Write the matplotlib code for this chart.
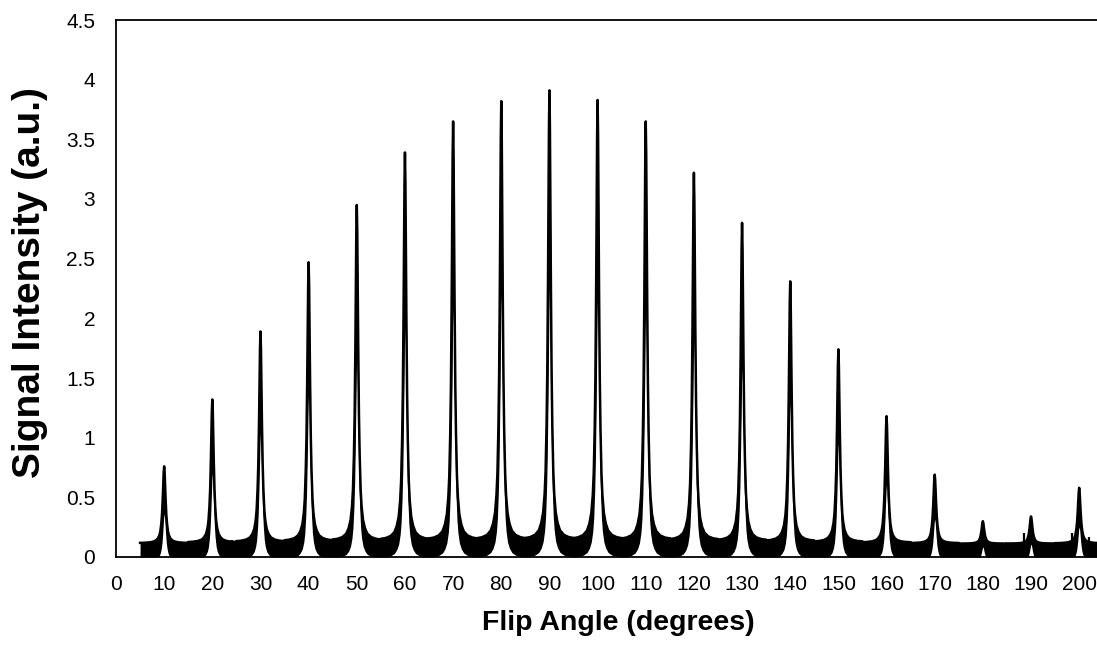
"""Flip-angle sweep: signal intensity vs flip angle, recreated as a static chart."""

import numpy as np
import matplotlib

matplotlib.use("Agg")
import matplotlib.pyplot as plt  # noqa: E402

plt.rcParams["font.family"] = ["Liberation Sans", "DejaVu Sans"]

# peak centres (degrees) and visible peak tops (a.u.)
PEAK_ANGLES = [10, 20, 30, 40, 50, 60, 70, 80, 90, 100,
               110, 120, 130, 140, 150, 160, 170, 180, 190, 200]
PEAK_HEIGHTS = [0.76, 1.32, 1.89, 2.47, 2.95, 3.39, 3.65, 3.82, 3.91, 3.83,
                3.65, 3.22, 2.80, 2.31, 1.74, 1.18, 0.69, 0.30, 0.34, 0.58]

# line shape of one peak, read from the 90 degree peak:
# distance from the centre (degrees) -> fraction of the peak height
SHAPE_OFFSETS = [0.0, 0.1, 0.2, 0.3, 0.45, 0.6, 0.8, 1.0, 1.3, 1.7, 2.2, 3.0, 4.0, 5.0]
SHAPE_LEVELS = [1.0, 0.92, 0.75, 0.58, 0.38, 0.26, 0.16, 0.11, 0.07, 0.046,
                0.03, 0.02, 0.015, 0.013]

BASELINE = 0.06     # mean level of the noisy floor
NOISE_HALF = 0.05   # half thickness of the noise band on the floor
NOISE_FRAC = 0.25   # extra noise that grows with the signal
LOW_CUT = 0.10      # below this level the noise reaches down to zero

# a few stray spikes on the floor
SPIKE_ANGLES = [24.0, 188.5, 198.5, 202.0]
SPIKE_HEIGHTS = [0.14, 0.20, 0.20, 0.17]

X_TICKS = list(range(0, 201, 10))
Y_TICKS = [0, 0.5, 1, 1.5, 2, 2.5, 3, 3.5, 4, 4.5]
Y_TICK_LABELS = ["0", "0.5", "1", "1.5", "2", "2.5", "3", "3.5", "4", "4.5"]


def build_trace():
    offs = np.array(SHAPE_OFFSETS)
    lev = np.array(SHAPE_LEVELS)
    rel_x = np.concatenate([-offs[::-1], offs[1:]])
    rel_y = np.concatenate([lev[::-1], lev[1:]])
    xs, ys = [], []
    for c, h in zip(PEAK_ANGLES, PEAK_HEIGHTS):
        # scale so the top of the noise band lands on the read peak top
        amp = (h - BASELINE - NOISE_HALF) / (1 + NOISE_FRAC)
        xs.append(c + rel_x)
        ys.append(BASELINE + amp * rel_y)
    return np.concatenate(xs), np.concatenate(ys)


def main():
    W, H = 1097, 651
    fig = plt.figure(figsize=(W / 100, H / 100), dpi=100)
    left, right, top, bottom = 116, 1097, 20, 557
    ax = fig.add_axes([left / W, 1 - bottom / H, (right - left) / W, (bottom - top) / H])

    x, y = build_trace()
    upper = y + NOISE_HALF + NOISE_FRAC * (y - BASELINE)
    lower = np.clip((y - LOW_CUT) * (1 - NOISE_FRAC), 0, None)
    ax.fill_between(x, lower, upper, color="black", lw=0)
    ax.plot(x, upper, color="black", lw=1.8, solid_joinstyle="round")
    ax.vlines(SPIKE_ANGLES, 0, SPIKE_HEIGHTS, color="black", lw=1.6)

    ax.set_xlim(0, 203.7)
    ax.set_ylim(0, 4.5)
    ax.set_xticks(X_TICKS)
    ax.set_yticks(Y_TICKS)
    ax.set_yticklabels(Y_TICK_LABELS)
    ax.tick_params(length=0, labelsize=15, colors="black")
    ax.tick_params(axis="x", pad=13)
    ax.tick_params(axis="y", pad=15)
    for side in ("left", "bottom", "top"):
        ax.spines[side].set_linewidth(1.3)
    ax.spines["right"].set_visible(False)

    fig.text(618 / W, 1 - 623 / H, "Flip Angle (degrees)", ha="center", va="center",
             fontsize=20.5, fontweight="bold")
    fig.text(30 / W, 1 - 283 / H, "Signal Intensity (a.u.)", ha="center", va="center",
             rotation=90, fontsize=28, fontweight="bold")

    fig.savefig("out.png", dpi=100)
    plt.close(fig)


if __name__ == "__main__":
    main()
